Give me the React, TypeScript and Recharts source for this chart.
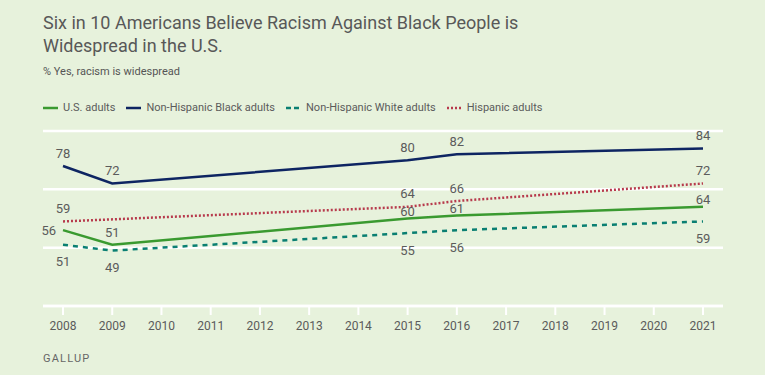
import React from "react";
import { LineChart, Line, XAxis, YAxis, CartesianGrid, LabelList } from "recharts";

const years = [2008, 2009, 2015, 2016, 2021];
const usAdults = [56, 51, 60, 61, 64];
const blackAdults = [78, 72, 80, 82, 84];
const whiteAdults = [51, 49, 55, 56, 59];
const hispanicAdults: (number | null)[] = [59, null, 64, 66, 72];
const xTicks = [2008, 2009, 2010, 2011, 2012, 2013, 2014, 2015, 2016, 2017, 2018, 2019, 2020, 2021];
const yTicks = [30, 50, 70, 90];

const data = years.map((y, i) => ({
  year: y,
  us: usAdults[i],
  black: blackAdults[i],
  white: whiteAdults[i],
  hispanic: hispanicAdults[i],
}));

const FONT = "Roboto, 'Noto Sans', sans-serif";
const TEXT = "#5b5b5b";
const C_US = "#3a9a30";
const C_BLACK = "#0e2562";
const C_WHITE = "#0a7f72";
const C_HISP = "#b73a4c";

const makeLabel = (series: string) => (props: any) => {
  const { x, y, value, index } = props;
  if (value === null || value === undefined) return null;
  let tx = x;
  let ty = y;
  let anchor: "middle" | "end" = "middle";
  if (series === "black" || series === "hispanic") ty = y - 13;
  else if (series === "white") ty = y + 17;
  else if (series === "us") {
    if (index === 0) {
      tx = x - 7;
      anchor = "end";
    } else if (index === 1) ty = y - 12;
    else ty = y - 7;
  }
  return (
    <text
      x={tx}
      y={ty}
      textAnchor={anchor}
      dominantBaseline="central"
      fontSize={13}
      fontFamily={FONT}
      fill={TEXT}
    >
      {value}
    </text>
  );
};

const LegendItem = ({ color, dash, label }: any) => (
  <div style={{ display: "flex", alignItems: "center", marginRight: 11 }}>
    <svg width={15} height={4} style={{ marginRight: 5 }}>
      <line x1={0} y1={2} x2={15} y2={2} stroke={color} strokeWidth={2.5} strokeDasharray={dash} />
    </svg>
    <span>{label}</span>
  </div>
);

export default function App() {
  return (
    <div
      style={{
        position: "absolute",
        left: 0,
        top: 0,
        width: 765,
        height: 375,
        background: "#e7f2dc",
        fontFamily: FONT,
        color: TEXT,
        overflow: "hidden",
      }}
    >
      <div
        style={{
          position: "absolute",
          left: 43,
          top: 11,
          fontSize: 18,
          lineHeight: "23px",
          color: "#585858",
          width: 560,
        }}
      >
        Six in 10 Americans Believe Racism Against Black People is
        <br />
        Widespread in the U.S.
      </div>
      <div style={{ position: "absolute", left: 43, top: 65, fontSize: 11, color: "#555" }}>
        % Yes, racism is widespread
      </div>
      <div
        style={{
          position: "absolute",
          left: 43,
          top: 101,
          fontSize: 11,
          display: "flex",
          color: "#5b5b5b",
        }}
      >
        <LegendItem color={C_US} label="U.S. adults" />
        <LegendItem color={C_BLACK} label="Non-Hispanic Black adults" />
        <LegendItem color={C_WHITE} dash="5 3" label="Non-Hispanic White adults" />
        <LegendItem color={C_HISP} dash="2 2" label="Hispanic adults" />
      </div>
      <div style={{ position: "absolute", left: 0, top: 0 }}>
        <LineChart
          width={765}
          height={375}
          data={data}
          margin={{ top: 131, right: 42, bottom: 39, left: 43 }}
        >
          <CartesianGrid vertical={false} stroke="#ffffff" strokeWidth={2.5} />
          <YAxis hide domain={[30, 90]} ticks={yTicks} type="number" />
          <XAxis
            dataKey="year"
            type="number"
            domain={[2008, 2021]}
            ticks={xTicks}
            padding={{ left: 20, right: 20 }}
            height={30}
            axisLine={{ stroke: "#ffffff", strokeWidth: 2.5 }}
            tickLine={{ stroke: "#ffffff", strokeWidth: 2 }}
            tickSize={9}
            tickMargin={6}
            interval={0}
            tick={{ fill: TEXT, fontSize: 12, fontFamily: FONT }}
          />
          <Line
            dataKey="black"
            stroke={C_BLACK}
            strokeWidth={2.5}
            dot={false}
            activeDot={false}
            isAnimationActive={false}
          >
            <LabelList dataKey="black" content={makeLabel("black")} />
          </Line>
          <Line
            dataKey="hispanic"
            stroke={C_HISP}
            strokeWidth={2.5}
            strokeDasharray="2 2"
            connectNulls
            dot={false}
            activeDot={false}
            isAnimationActive={false}
          >
            <LabelList dataKey="hispanic" content={makeLabel("hispanic")} />
          </Line>
          <Line
            dataKey="us"
            stroke={C_US}
            strokeWidth={2.5}
            dot={false}
            activeDot={false}
            isAnimationActive={false}
          >
            <LabelList dataKey="us" content={makeLabel("us")} />
          </Line>
          <Line
            dataKey="white"
            stroke={C_WHITE}
            strokeWidth={2.5}
            strokeDasharray="5 5"
            dot={false}
            activeDot={false}
            isAnimationActive={false}
          >
            <LabelList dataKey="white" content={makeLabel("white")} />
          </Line>
        </LineChart>
      </div>
      <div
        style={{
          position: "absolute",
          left: 43,
          top: 352,
          fontSize: 11,
          letterSpacing: 1.2,
          color: "#666",
        }}
      >
        GALLUP
      </div>
    </div>
  );
}
